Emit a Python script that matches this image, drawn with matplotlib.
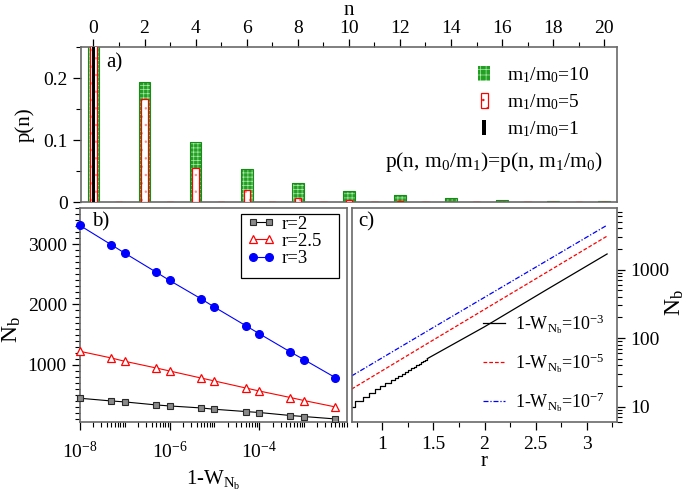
import matplotlib
matplotlib.use('Agg')
import matplotlib.pyplot as plt
import matplotlib.patches as mpatches
from matplotlib.legend_handler import HandlerPatch

plt.rcParams['font.family'] = ['Liberation Serif', 'DejaVu Serif']
plt.rcParams['mathtext.fontset'] = 'custom'
plt.rcParams['mathtext.rm'] = 'Liberation Serif'
plt.rcParams['mathtext.it'] = 'Liberation Serif'
plt.rcParams['mathtext.bf'] = 'Liberation Serif:bold'
plt.rcParams['mathtext.default'] = 'rm'
plt.rcParams['hatch.linewidth'] = 0.5

# ---------------- data ----------------
# panel a: photon-number distribution p(n)
n_vals = [0, 1, 2, 3, 4, 5, 6, 7, 8, 9, 10, 11, 12, 13, 14, 15, 16, 17, 18, 19, 20]
p_ratio10 = [0.575, 0, 0.193, 0, 0.0968, 0, 0.0537, 0, 0.031, 0, 0.0182, 0,
             0.0113, 0, 0.0069, 0, 0.0043, 0, 0.0027, 0, 0.0016]
p_ratio5 = [0.745, 0, 0.166, 0, 0.0553, 0, 0.0198, 0, 0.0076, 0, 0.0032, 0,
            0.0013, 0, 0.0005, 0, 0.0002, 0, 0.0001, 0, 0.00004]
p_ratio1 = [1.0, 0, 0, 0, 0, 0, 0, 0, 0, 0, 0, 0, 0, 0, 0, 0, 0, 0, 0, 0, 0]
a_labels = ['m$_1$/m$_0$=10', 'm$_1$/m$_0$=5', 'm$_1$/m$_0$=1']

# panel b: N_b versus 1-W
one_minus_w = [1e-8, 5e-8, 1e-7, 5e-7, 1e-6, 5e-6, 1e-5, 5e-5, 1e-4, 5e-4, 1e-3, 5e-3]
nb_r2 = [440, 395, 379, 329, 312, 279, 257, 219, 203, 153, 136, 96]
nb_r25 = [1221, 1110, 1055, 944, 894, 777, 728, 611, 561, 452, 402, 296]
nb_r3 = [3314, 2993, 2854, 2538, 2400, 2096, 1957, 1648, 1515, 1209, 1083, 784]
b_labels = ['r=2', 'r=2.5', 'r=3']

# panel c: N_b versus r
black_step_r = [0.70, 0.73, 0.81, 0.87, 0.93, 0.98, 1.03, 1.08, 1.12, 1.15, 1.19,
                1.22, 1.25, 1.28, 1.31, 1.33, 1.36, 1.38, 1.40, 1.42, 1.44]
black_step_n = [10, 12, 14, 16, 18, 20, 22, 24, 26, 28, 30,
                32, 34, 36, 38, 40, 42, 44, 46, 48, 50]
black_r = [1.44, 2.0, 2.6, 3.2]
black_n = [50, 146, 500, 1690]
red_r = [0.7, 1.5, 2.0, 2.6, 3.2]
red_n = [18, 94, 262, 897, 3080]
blue_r = [0.7, 1.5, 2.0, 2.6, 3.2]
blue_n = [28, 143, 393, 1322, 4450]
c_labels = ['1-W$_{\\mathrm{N}_\\mathrm{b}}$=10$^{-3}$',
            '1-W$_{\\mathrm{N}_\\mathrm{b}}$=10$^{-5}$',
            '1-W$_{\\mathrm{N}_\\mathrm{b}}$=10$^{-7}$']

# ---------------- figure ----------------
W, H = 692, 498
fig = plt.figure(figsize=(W / 100, H / 100), dpi=100)


def box(l, t, r, b):
    return [l / W, 1 - b / H, (r - l) / W, (b - t) / H]


spine_col = '#6a6a6a'
TICK = 14
LAB = 15


def style_axes(ax):
    for s in ax.spines.values():
        s.set_color(spine_col)
        s.set_linewidth(1.2)
    ax.tick_params(which='major', length=6, width=0.9, labelsize=TICK, direction='out')
    ax.tick_params(which='minor', length=3.5, width=0.8, direction='out')


# ---- panel a ----
axa = fig.add_axes(box(80.7, 47, 617, 202.3))
style_axes(axa)
green = '#22a022'
axa.bar(n_vals, p_ratio10, width=0.46, color=green, edgecolor='#aee8ae',
        hatch='++++', linewidth=0, zorder=2)
axa.bar(n_vals, p_ratio10, width=0.46, fill=False, edgecolor='#178a17',
        linewidth=0.8, zorder=2.1)
axa.bar(n_vals, p_ratio5, width=0.25, facecolor='white', edgecolor='#ff8c8c',
        hatch='..', linewidth=0, zorder=3)
axa.bar(n_vals, p_ratio5, width=0.25, fill=False, edgecolor='red',
        linewidth=0.9, zorder=3.1)
axa.bar(n_vals, p_ratio1, width=0.15, color='black', linewidth=0, zorder=4)
axa.set_xlim(-0.5, 20.5)
axa.set_ylim(0, 0.25)
axa.xaxis.tick_top()
axa.set_xticks(range(0, 21, 2))
axa.set_xticks(range(1, 21, 2), minor=True)
axa.set_yticks([0, 0.1, 0.2])
axa.set_yticklabels(['0', '0.1', '0.2'])
axa.set_yticks([0.05, 0.15, 0.25], minor=True)
axa.tick_params(axis='x', which='both', bottom=False, top=True)
axa.tick_params(axis='y', which='both', right=False)
axa.tick_params(axis='x', which='major', length=5.5, pad=1.5)
axa.tick_params(axis='x', which='minor', length=3.5)
fig.text(348.9 / W, 1 - 15 / H, '$\\mathrm{n}$', fontsize=LAB, ha='center',
         va='baseline')
axa.set_ylabel('p(n)', fontsize=LAB, labelpad=6)
axa.text(0.048, 0.90, 'a)', transform=axa.transAxes, fontsize=LAB,
         ha='left', va='center')


class RectHandler(HandlerPatch):
    def __init__(self, wfrac, hfrac=1.0):
        super().__init__()
        self.wfrac = wfrac
        self.hfrac = hfrac

    def create_artists(self, legend, orig_handle, xdescent, ydescent,
                       width, height, fontsize, trans):
        w = width * self.wfrac
        h = height * self.hfrac
        p = mpatches.Rectangle((-xdescent + (width - w) / 2,
                                -ydescent + (height - h) / 2), w, h)
        self.update_prop(p, orig_handle, legend)
        p.set_transform(trans)
        return [p]


hg = mpatches.Patch(facecolor=green, edgecolor='#aee8ae', hatch='+++', linewidth=0)
hr = mpatches.Patch(facecolor='white', edgecolor='red', hatch='..', linewidth=0.9)
hk = mpatches.Patch(facecolor='black', edgecolor='black', linewidth=0)
axa.legend([hg, hr, hk], a_labels, loc='upper left',
           bbox_to_anchor=(0.738, 0.885), frameon=False, fontsize=TICK,
           handlelength=0.8, handleheight=0.8, handletextpad=0.75,
           labelspacing=0.38, borderpad=0, borderaxespad=0,
           handler_map={hg: RectHandler(0.75), hr: RectHandler(0.45),
                        hk: RectHandler(0.27)})
axa.text(0.974, 0.262, 'p(n, m$_0$/m$_1$)=p(n, m$_1$/m$_0$)',
         transform=axa.transAxes, fontsize=15.5, ha='right', va='center')

# ---- panel b ----
axb = fig.add_axes(box(80, 208.3, 346.7, 421.7))
style_axes(axb)
axb.set_xscale('log')
axb.plot(one_minus_w, nb_r2, '-', color='black', lw=0.8, marker='s', ms=4.5,
         mfc='#8a8a8a', mec='#2a2a2a', mew=0.8, label=b_labels[0], clip_on=False, zorder=3)
axb.plot(one_minus_w, nb_r25, '-', color='red', lw=0.8, marker='^', ms=5.5,
         mfc='white', mec='red', mew=0.9, label=b_labels[1], clip_on=False, zorder=3)
axb.plot(one_minus_w, nb_r3, '-', color='blue', lw=0.8, marker='o', ms=5.5,
         mfc='blue', mec='blue', label=b_labels[2], clip_on=False, zorder=3)
axb.set_xlim(1e-8, 8.45e-3)
axb.set_ylim(50, 3600)
axb.set_xticks([1e-8, 1e-6, 1e-4])
axb.set_xticklabels(['10$^{-8}$', '10$^{-6}$', '10$^{-4}$'])
minor_x = [k * 10.0 ** e for e in range(-8, -2) for k in range(1, 10)]
minor_x = [v for v in minor_x if v not in (1e-8, 1e-6, 1e-4)]
axb.set_xticks(minor_x, minor=True)
axb.set_xticklabels([], minor=True)
axb.set_yticks([1000, 2000, 3000])
axb.set_yticks([v for v in range(100, 3601, 100) if v % 1000], minor=True)
axb.tick_params(which='both', top=False, right=False)
axb.tick_params(axis='x', which='major', pad=8)
axb.set_xlabel('1-W$_{\\mathrm{N}_\\mathrm{b}}$', fontsize=LAB, labelpad=5)
axb.set_ylabel('N$_\\mathrm{b}$', fontsize=LAB + 2)
axb.yaxis.set_label_coords(-0.215, 0.43)
axb.text(0.045, 0.935, 'b)', transform=axb.transAxes, fontsize=LAB,
         ha='left', va='center')
legb = axb.legend(loc='upper left', bbox_to_anchor=(0.628, 0.965),
                  fontsize=13.5, frameon=False, borderaxespad=0,
                  handlelength=1.45, handletextpad=0.38, labelspacing=0.0,
                  borderpad=0, numpoints=2)
# legend frame (drawn as a plain rectangle, axes fraction)
axb.add_patch(mpatches.Rectangle((0.6026, 0.673), 0.3694, 0.300,
                                 transform=axb.transAxes, fill=False,
                                 edgecolor='black', linewidth=0.9, zorder=5))

# ---- panel c ----
axc = fig.add_axes(box(351.7, 208.3, 617.3, 421.7))
style_axes(axc)
axc.set_yscale('log')
axc.plot(black_step_r, black_step_n, '-', color='black', lw=0.9, drawstyle='steps-post')
axc.plot(black_r, black_n, '-', color='black', lw=0.9, label=c_labels[0])
axc.plot(red_r, red_n, color='red', lw=0.9, linestyle=(0, (3, 1.6)), label=c_labels[1])
axc.plot(blue_r, blue_n, color='blue', lw=0.9, linestyle=(0, (4, 1.5, 1, 1.5)),
         label=c_labels[2])
axc.set_xlim(0.7, 3.3)
axc.set_ylim(6, 7850)
axc.set_xticks([1, 1.5, 2, 2.5, 3])
axc.set_xticklabels(['1', '1.5', '2', '2.5', '3'])
axc.set_xticks([0.75, 1.25, 1.75, 2.25, 2.75, 3.25], minor=True)
axc.yaxis.tick_right()
axc.yaxis.set_label_position('right')
axc.set_yticks([10, 100, 1000])
axc.set_yticklabels(['10', '100', '1000'])
minor_y = [k * 10.0 ** e for e in range(0, 4) for k in range(2, 10)]
axc.set_yticks([v for v in minor_y if 6 <= v <= 7850], minor=True)
axc.set_yticklabels([], minor=True)
axc.tick_params(which='both', top=False, left=False)
axc.tick_params(axis='x', which='major', pad=4.5)
axc.set_xlabel('r', fontsize=LAB, labelpad=-1)
axc.set_ylabel('N$_\\mathrm{b}$', fontsize=LAB + 2, rotation=90)
axc.yaxis.set_label_coords(1.175, 0.56)
axc.text(0.025, 0.935, 'c)', transform=axc.transAxes, fontsize=LAB,
         ha='left', va='center')
axc.legend(loc='upper left', bbox_to_anchor=(0.494, 0.515), frameon=False,
           fontsize=13, handlelength=1.2, handletextpad=0.55,
           labelspacing=0.83, borderpad=0, borderaxespad=0)

fig.savefig('out.png', dpi=100)
